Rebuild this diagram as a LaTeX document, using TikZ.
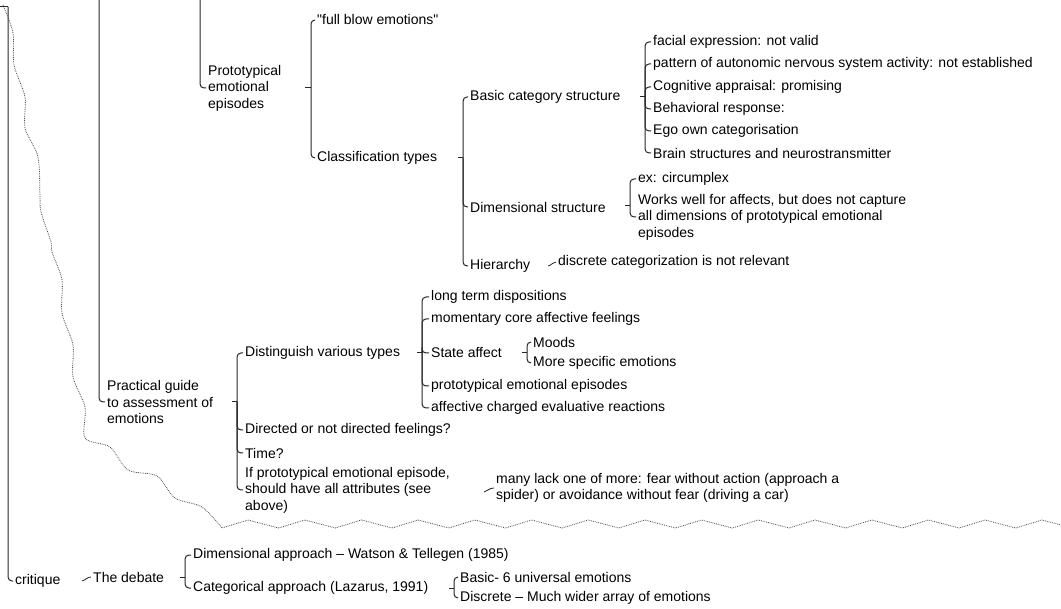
\documentclass[tikz,border=0pt]{standalone}
\usepackage{fontspec}
\setmainfont{Liberation Sans}
\usetikzlibrary{calc}

\begin{document}
\begin{tikzpicture}[
  x=1pt, y=-1pt,
  topic/.style={anchor=west, inner xsep=2pt, inner ysep=1pt, align=left,
    font=\fontsize{14}{16.5}\selectfont},
  brace/.style={line width=1pt, black!85, rounded corners=4pt},
  tick/.style={line width=1pt, black!85},
  link/.style={line width=0.8pt, black!85},
  edge/.style={densely dotted, line width=0.8pt, black!70}
]
\useasboundingbox (0,0) rectangle (1061,609);

% ============ TOP: prototypical emotional episodes ============
\node[topic] (proto) at (206,88) {Prototypical\\emotional\\episodes};
\node[topic] (fullblow) at (315,20) {\textquotedbl full blow emotions\textquotedbl};
\node[topic] (classif) at (315,158) {Classification types};

\node[topic] (basiccat) at (468,97) {Basic category structure};
\node[topic] (dimstr) at (468,207) {Dimensional structure};
\node[topic] (hier) at (468,266) {Hierarchy};

\node[topic] (facial) at (651,42) {facial expression: not valid};
\node[topic] (pattern) at (651,64) {pattern of autonomic nervous system activity: not established};
\node[topic] (cognit) at (651,87) {Cognitive appraisal: promising};
\node[topic] (behav) at (651,109) {Behavioral response:};
\node[topic] (ego) at (651,131) {Ego own categorisation};
\node[topic] (brain) at (651,153) {Brain structures and neurostransmitter};

\node[topic] (circ) at (636,179) {ex: circumplex};
\node[topic] (works) at (636,217)
  {Works well for affects, but does not capture\\all dimensions of prototypical emotional\\episodes};

\node[topic] (discat) at (556,262) {discrete categorization is not relevant};

% brackets
\coordinate (bproto) at (311,88);
\coordinate (bclassif) at (463,158);
\coordinate (bbasic) at (645,97);
\coordinate (bdim) at (630,206);
\draw[tick] (bproto) -- ++(-6,0);
\draw[tick] (bclassif) -- ++(-5,0);
\draw[tick] (bbasic) -- ++(-5,0);
\draw[tick] (bdim) -- ++(-5,0);
\foreach \n in {fullblow,classif}
  \draw[brace] (bproto) |- (\n.west);
\foreach \n in {basiccat,dimstr,hier}
  \draw[brace] (bclassif) |- (\n.west);
\foreach \n in {facial,pattern,cognit,behav,ego,brain}
  \draw[brace] (bbasic) |- (\n.west);
\foreach \n in {circ,works}
  \draw[brace] (bdim) |- (\n.west);

\coordinate (lhier) at (548,266);
\draw[link] (lhier) .. controls (552,265) and (553,262) .. (discat.west);

% ============ MIDDLE: practical guide ============
\node[topic] (practical) at (105,402) {Practical guide\\to assessment of\\emotions};

\node[topic] (disting) at (243,353) {Distinguish various types};
\node[topic] (directed) at (243,430) {Directed or not directed feelings?};
\node[topic] (timeq) at (243,453) {Time?};
\node[topic] (ifproto) at (243,490)
  {If prototypical emotional episode,\\should have all attributes (see\\above)};

\node[topic] (longterm) at (429,297) {long term dispositions};
\node[topic] (moment) at (429,319) {momentary core affective feelings};
\node[topic] (state) at (429,353) {State affect};
\node[topic] (protoep) at (429,386) {prototypical emotional episodes};
\node[topic] (affch) at (429,408) {affective charged evaluative reactions};

\node[topic] (moods) at (531,342) {Moods};
\node[topic] (morespec) at (531,363) {More specific emotions};

\node[topic] (manylack) at (494,488)
  {many lack one of more: fear without action (approach a\\spider) or avoidance without fear (driving a car)};

\coordinate (bpract) at (237,402);
\coordinate (bdist) at (422,353);
\coordinate (bstate) at (527,353);
\draw[tick] (bpract) -- ++(-5,0);
\draw[tick] (bdist) -- ++(-5,0);
\draw[tick] (bstate) -- ++(-5,0);
\foreach \n in {disting,directed,timeq,ifproto}
  \draw[brace] (bpract) |- (\n.west);
\foreach \n in {longterm,moment,state,protoep,affch}
  \draw[brace] (bdist) |- (\n.west);
\foreach \n in {moods,morespec}
  \draw[brace] (bstate) |- (\n.west);

\coordinate (lif) at (484,492);
\draw[link] (lif) .. controls (488,491) and (489,488) .. (manylack.west);

% ============ BOTTOM: critique ============
\node[topic] (critique) at (13,581) {critique};
\node[topic] (debate) at (91,577) {The debate};
\node[topic] (dimappr) at (191,555) {Dimensional approach – Watson \& Tellegen (1985)};
\node[topic] (catappr) at (191,588) {Categorical approach (Lazarus, 1991)};
\node[topic] (basicsix) at (458,577) {Basic- 6 universal emotions};
\node[topic] (discr) at (458,598) {Discrete – Much wider array of emotions};

\coordinate (ldeb) at (82,581);
\draw[link] (ldeb) .. controls (86,580) and (87,577) .. (debate.west);

\coordinate (bdeb) at (185,577);
\coordinate (bcat) at (454,588);
\draw[tick] (bdeb) -- ++(-5,0);
\draw[tick] (bcat) -- ++(-5,0);
\foreach \n in {dimappr,catappr}
  \draw[brace] (bdeb) |- (\n.west);
\foreach \n in {basicsix,discr}
  \draw[brace] (bcat) |- (\n.west);

% ============ main trunk lines (cut at top) ============
\coordinate (rootL) at (0,7);
\coordinate (rootA) at (8,7);
\coordinate (rootB) at (99,0);
\coordinate (rootC) at (200,0);
\draw[tick] (rootL) -- (rootA);
\draw[brace] (rootA) |- (critique.west);
\draw[brace] (rootB) |- (practical.west);
\draw[brace] (rootC) |- (proto.west);

% dotted boundary
\draw[edge] plot[smooth, tension=0.5] coordinates {(3,5) (13,33) (14,65) (25,97)
  (25,128) (38,157) (40,197) (41,212) (51,242) (52,252) (62,280) (62,313)
  (73,345) (73,377) (85,407) (85,438) (110,447) (128,470) (157,476)
  (175,498) (202,507) (222,528)}
  \foreach \k in {0,...,13}{ -- ({248+56.7*\k},520) -- ({278.7+56.7*\k},528) }
  -- (1041.8,520) -- (1061,525);

\end{tikzpicture}
\end{document}
